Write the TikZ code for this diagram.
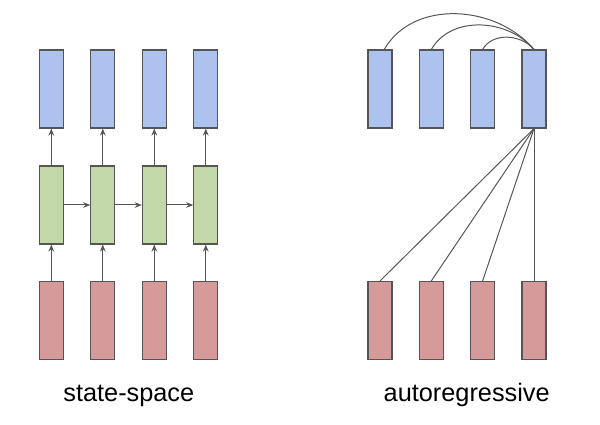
\documentclass[tikz,border=0pt]{standalone}
\usepackage{fontspec}
\setmainfont{Liberation Sans}
\usetikzlibrary{arrows.meta,positioning}
\definecolor{CellBlue}{RGB}{174,194,240}
\definecolor{CellGreen}{RGB}{194,216,168}
\definecolor{CellRed}{RGB}{215,154,154}
\definecolor{EdgeGray}{RGB}{85,85,85}

\tikzset{
  cell/.style={draw=EdgeGray,line width=0.75pt,minimum width=0.6cm,
    minimum height=1.95cm,inner sep=0pt},
  outcell/.style={cell,fill=CellBlue},
  statecell/.style={cell,fill=CellGreen},
  incell/.style={cell,fill=CellRed},
  link/.style={draw=EdgeGray,line width=0.7pt},
  caption/.style={font=\fontsize{18}{22}\selectfont,anchor=base}
}

\begin{document}
\begin{tikzpicture}[x=0.025cm,y=0.025cm,>={Stealth[length=5pt,width=4pt]}]
      \useasboundingbox (0,0) rectangle (600,425);
      % state-space side
      \foreach \i/\x in {1/51.3,2/102.8,3/154.3,4/205.8} {
        \node[outcell] (y\i) at (\x,336) {};
        \node[statecell] (h\i) at (\x,220) {};
        \node[incell] (x\i) at (\x,104.5) {};
        \draw[link,->] (x\i) -- (h\i);
        \draw[link,->] (h\i) -- (y\i);
      }
      \foreach \i/\j in {1/2,2/3,3/4}
        \draw[link,->] (h\i) -- (h\j);
      \node[caption] (ssm) at (128.8,23.3) {state-space};
      % autoregressive side
      \foreach \i/\x in {1/380,2/431.3,3/482.6,4/534} {
        \node[outcell] (a\i) at (\x,336) {};
        \node[incell] (b\i) at (\x,104.5) {};
      }
      \foreach \i in {1,...,4}
        \draw[link] (a4.south) -- (b\i.north);
      \draw[link] ([xshift=3]a1.north) to[out=60,in=130] (a4.north);
      \draw[link] (a2.north) to[out=60,in=130] (a4.north);
      \draw[link] (a3.north) to[out=60,in=130] (a4.north);
      \node[caption] (ar) at (466.7,23.3) {autoregressive};
    \end{tikzpicture}
\end{document}
